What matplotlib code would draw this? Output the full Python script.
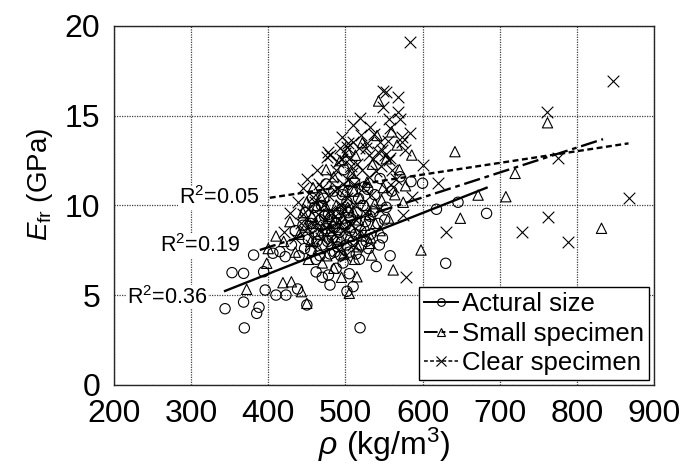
import matplotlib
matplotlib.use("Agg")
import matplotlib.pyplot as plt
from matplotlib.lines import Line2D
import numpy as np

plt.rcParams['font.family'] = ['Liberation Sans', 'DejaVu Sans']
plt.rcParams['mathtext.fontset'] = 'custom'
plt.rcParams['mathtext.rm'] = 'Liberation Sans'
plt.rcParams['mathtext.it'] = 'Liberation Sans:italic'

# Actual-size members: density (kg/m3) and E_fr (GPa)
actual_rho = [344, 353, 368, 368, 369, 381, 385, 388, 394, 396, 406, 410, 415, 422, 423,
              438, 450, 478, 480, 502, 510, 519, 525, 536, 571, 585, 600, 618, 630, 646, 683,
              430, 435, 440, 445, 448, 452, 455, 458, 460, 462, 465, 468, 470, 472, 475, 478,
              480, 483, 485, 488, 490, 492, 495, 497, 500, 502, 505, 507, 510, 512, 515, 518,
              520, 523, 526, 530, 533, 538, 542, 548, 553, 558, 462, 470, 488, 505, 540, 560,
              545, 498, 475,
              455, 463, 467, 473, 477, 482, 486, 489, 494, 496, 501, 504, 509, 513, 517, 521,
              527, 532, 447, 457, 469, 484, 491, 506, 514, 529, 544, 551]
actual_E = [4.25, 6.26, 6.22, 4.62, 3.18, 7.24, 3.99, 4.33, 6.31, 5.29, 7.34, 5.01, 7.43, 7.15, 5.01,
            5.35, 4.46, 6.13, 5.57, 5.22, 5.48, 3.19, 11.05, 9.65, 11.6, 11.33, 11.24, 9.79, 6.78, 10.18, 9.56,
            7.8, 8.6, 7.2, 8.9, 9.6, 8.1, 7.5, 8.8, 9.9, 7.0, 8.4, 9.2, 7.8, 10.4, 8.7, 9.5,
            7.3, 8.2, 10.8, 9.0, 7.7, 8.5, 9.8, 6.8, 8.9, 10.2, 7.4, 9.3, 8.0, 11.3, 9.6, 7.0,
            8.6, 10.0, 9.1, 7.6, 8.4, 10.6, 9.0, 8.2, 9.9, 7.2, 6.3, 6.0, 6.5, 6.2, 6.6, 10.8,
            11.5, 12.0, 11.2,
            9.0, 8.0, 7.2, 9.4, 8.0, 9.2, 7.4, 8.1, 7.2, 10.6, 7.8, 9.6, 10.8, 8.4, 10.4, 7.8,
            8.0, 9.4, 7.6, 10.4, 10.0, 8.8, 9.6, 8.6, 7.3, 10.9, 7.8, 9.2]

# Small specimens
small_rho = [372, 398, 419, 430, 443, 450, 505, 515, 532, 534, 562, 543, 567, 575, 586, 598,
             642, 649, 672, 708, 720, 762, 832,
             400, 410, 420, 428, 435, 440, 445, 450, 455, 458, 462, 465, 468, 472, 475, 478,
             482, 485, 488, 490, 493, 496, 498, 500, 503, 505, 508, 510, 513, 516, 519, 522,
             525, 528, 531, 535, 538, 541, 545, 549, 553, 556, 560, 564, 570, 578, 485, 495, 470,
             448, 457, 463, 467, 474, 480, 484, 489, 494, 499, 503, 507, 511, 517, 521, 527,
             533, 539, 547, 452, 476, 512]
small_E = [5.33, 6.78, 5.7, 5.75, 5.2, 4.55, 5.11, 6.03, 7.89, 7.24, 6.41, 15.82, 13.37, 10.18, 12.81, 7.52,
           13.0, 9.29, 10.58, 10.49, 11.79, 14.61, 8.73,
           7.6, 8.3, 8.0, 9.1, 7.4, 8.4, 9.6, 10.2, 8.0, 11.0, 9.0, 7.6, 10.5, 8.6, 12.0, 9.4,
           7.9, 11.6, 10.0, 8.8, 12.5, 9.3, 7.3, 10.8, 13.0, 8.3, 11.8, 9.7, 12.8, 7.7, 10.4, 13.5,
           8.9, 11.3, 9.5, 12.3, 10.1, 13.9, 8.6, 11.0, 12.6, 9.3, 14.1, 10.6, 12.0, 11.1, 6.5, 6.0, 6.8,
           8.8, 9.4, 10.0, 8.4, 10.0, 8.6, 9.0, 9.6, 8.2, 9.0, 9.9, 8.8, 10.8, 9.2, 8.3, 10.0,
           8.2, 9.0, 10.3, 7.0, 7.2, 7.0]

# Clear specimens
clear_rho = [445, 476, 480, 493, 502, 510, 519, 528, 532, 545, 549, 549, 552, 556, 558, 558, 562,
             568, 568, 571, 573, 573, 575, 577, 579, 584, 584, 586, 601, 620, 631, 729, 761, 763,
             776, 788, 847, 867,
             420, 428, 435, 438, 442, 448, 450, 452, 455, 458, 460, 463, 465, 468, 470, 472, 475,
             478, 480, 483, 485, 487, 490, 492, 495, 497, 499, 500, 502, 504, 506, 508, 510, 512,
             515, 518, 520, 523, 526, 530, 533, 537, 540, 544, 548, 552, 556, 560, 565, 490, 500, 510,
             445, 456, 461, 466, 473, 477, 481, 486, 489, 494, 498, 503, 507, 511, 514, 517,
             522, 527, 531, 536, 542, 546, 551, 555, 488, 496, 505]
clear_E = [10.96, 12.72, 12.8, 13.2, 13.28, 13.56, 14.86, 13.46, 14.39, 13.56, 16.38, 15.5, 16.34, 12.53,
           14.3, 12.63, 11.05, 16.06, 15.23, 14.8, 13.83, 13.55, 9.47, 13.09, 6.03, 19.13, 14.02, 10.49,
           12.26, 11.23, 8.54, 8.54, 15.23, 9.38, 12.63, 7.98, 16.95, 10.40,
           8.5, 9.6, 8.2, 10.2, 9.0, 8.6, 11.5, 9.8, 7.8, 10.5, 8.9, 12.0, 9.5, 8.2, 11.0, 10.0, 8.8,
           13.0, 9.7, 11.6, 8.4, 10.8, 12.4, 9.2, 13.8, 11.2, 8.7, 12.9, 10.4, 13.5, 9.0, 11.8, 14.5, 10.0,
           12.3, 8.5, 13.9, 11.0, 9.6, 12.8, 10.6, 14.0, 11.9, 9.8, 13.1, 10.9, 14.8, 12.0, 11.5, 7.5, 7.2, 7.8,
           9.5, 9.0, 10.2, 11.2, 9.2, 10.6, 8.0, 9.4, 11.0, 10.0, 9.8, 11.4, 12.2, 11.2, 9.2, 13.2,
           12.0, 13.2, 11.6, 12.6, 13.0, 12.2, 12.8, 13.6, 12.0, 12.6, 12.6]

# Regression lines: (rho_start, rho_end, E at rho_start, slope)
fit_actual = (344, 683, 5.24, 0.01696)
fit_small = (389, 834, 7.52, 0.01388)
fit_clear = (402, 867, 10.43, 0.00652)
r2_labels = ["R$^2$=0.36", "R$^2$=0.19", "R$^2$=0.05"]
# label placement relative to the start of each line (rho shift, E shift)
label_offsets = [(-23, -0.35), (-26, 0.25), (-14, 0.0)]

fig = plt.figure(figsize=(6.85, 4.71), dpi=100)
ax = fig.add_axes([0.1664, 0.1826, 0.7883, 0.7622])

ax.scatter(actual_rho, actual_E, s=55, marker='o', facecolors='none', edgecolors='black',
           linewidths=0.8, zorder=3)
ax.scatter(small_rho, small_E, s=55, marker='^', facecolors='none', edgecolors='black',
           linewidths=0.8, zorder=3)
ax.scatter(clear_rho, clear_E, s=70, marker='x', color='black', linewidths=0.8, zorder=3)

styles = [dict(linestyle='-'), dict(dashes=(7, 2, 2, 2)), dict(dashes=(2.5, 1.5))]
for fit, st, lab, off in zip([fit_actual, fit_small, fit_clear], styles, r2_labels, label_offsets):
    x0, x1, b, m = fit
    xs = np.array([x0, x1])
    ax.plot(xs, b + m * (xs - x0), color='black', lw=1.7, zorder=4, **st)
    ax.text(x0 + off[0], b + off[1], lab, ha='right', va='center', fontsize=15.5,
            bbox=dict(facecolor='white', edgecolor='none', pad=0.5), zorder=5)

ax.set_xlim(200, 900)
ax.set_ylim(0, 20)
ax.set_xticks(range(200, 901, 100))
ax.set_yticks(range(0, 21, 5))
ax.grid(True, linestyle=(0, (1, 1)), color='0.25', linewidth=0.9, zorder=0)
ax.set_axisbelow(True)
ax.tick_params(labelsize=23, length=0)
ax.tick_params(axis='x', pad=10)
ax.tick_params(axis='y', pad=10)
for sp in ax.spines.values():
    sp.set_linewidth(1.0)
    sp.set_color('0.15')

ax.set_xlabel(r'$\it{\rho}$ (kg/m$^3$)', fontsize=23, labelpad=-2)
ax.set_ylabel(r'$\it{E}_{\rm fr}$ (GPa)', fontsize=20)
ax.yaxis.set_label_coords(-0.11, 0.56)

handles = [
    Line2D([], [], color='black', lw=1.4, marker='o', mfc='none', ms=5.5, mew=0.8),
    Line2D([], [], color='black', lw=1.4, marker='^', mfc='none', ms=5.5, mew=0.8, dashes=(7, 2, 2, 2)),
    Line2D([], [], color='black', lw=1.1, marker='x', ms=6.5, mew=0.8, dashes=(2.5, 1.5)),
]
leg = ax.legend(handles, ['Actural size', 'Small specimen', 'Clear specimen'], loc='lower right',
                fontsize=18.5, handlelength=1.3, handletextpad=0.15, borderpad=0.2, labelspacing=0.2,
                borderaxespad=0.2, fancybox=False, framealpha=1, edgecolor='black')
leg.get_frame().set_linewidth(1.0)
leg.set_zorder(6)

fig.savefig('out.png', dpi=100)
